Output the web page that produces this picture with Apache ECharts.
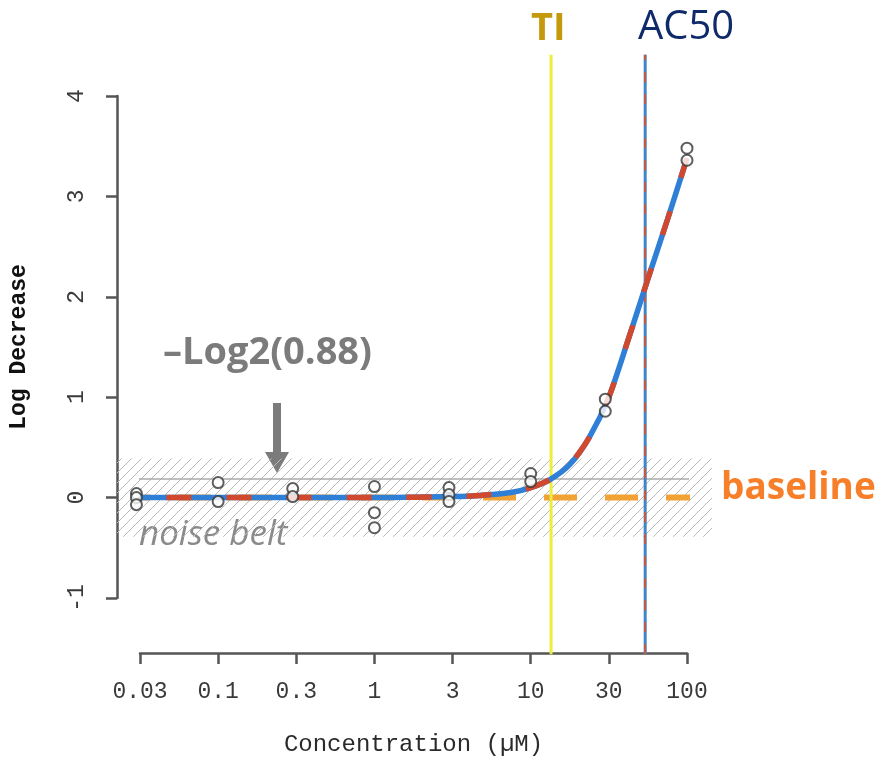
<!DOCTYPE html>
<html>
<head>
<meta charset="utf-8">
<script src="https://cdn.jsdelivr.net/npm/echarts@6/dist/echarts.min.js"></script>
<style>
  html, body { margin: 0; padding: 0; background: #fff; }
  #chart { width: 891px; height: 758px; }
</style>
</head>
<body>
<div id="chart"></div>
<script>
// measured replicate points (µM, log decrease)
const pointConc = [0.03, 0.03, 0.03, 0.1, 0.1, 0.3, 0.3, 1, 1, 1, 3, 3, 3, 10, 10, 30, 30, 100, 100];
const pointValues = [0.04, 0, -0.07, 0.15, -0.04, 0.09, 0.01, 0.11, -0.15, -0.3, 0.1, 0.03, -0.04, 0.24, 0.16, 0.98, 0.86, 3.48, 3.36];

// fitted curve
const curveConc = [0.03, 0.3, 1, 3.16, 4.2, 5.6, 7.5, 10, 13.3, 17.8, 23.7, 31.6, 42, 56, 75, 100];
const curveValues = [0, 0, 0, 0.01, 0.015, 0.03, 0.05, 0.1, 0.18, 0.33, 0.6, 1.0, 1.57, 2.17, 2.77, 3.38];

const xTickLabels = ["0.03", "0.1", "0.3", "1", "3", "10", "30", "100"];
const yTicks = [-1, 0, 1, 2, 3, 4];

const tiConc = 13.5;
const ac50Conc = 54;
const noiseBelt = 0.39;
const threshold = -Math.log2(0.88);

// plot region reaches past the tick range (R style axes)
const xLeft = -1.647, xRight = 2.16, baseEnd = 2.1;
const yBottom = -1.56, yTop = 4.41;

const lg = Math.log10;
const toXY = (xs, ys) => xs.map((c, i) => [lg(c), ys[i]]);

// diagonal hatch for the noise belt
const hatch = document.createElement("canvas");
hatch.width = 10; hatch.height = 10;
(function () {
  const g = hatch.getContext("2d");
  g.strokeStyle = "#b8b8b8";
  g.lineWidth = 1;
  g.beginPath();
  g.moveTo(-1, 11); g.lineTo(11, -1);
  g.moveTo(-1, 1); g.lineTo(1, -1);
  g.moveTo(9, 11); g.lineTo(11, 9);
  g.stroke();
})();

const chart = echarts.init(document.getElementById("chart"));

const blue = "#2f7fd6";
const red = "#d0492f";
const monoFont = "Liberation Mono";

chart.setOption({
  animation: false,
  grid: { left: 140, width: 547, top: 96, height: 502, outerBoundsMode: "none", containLabel: false },
  xAxis: {
    type: "value",
    min: -1.5, max: 2, interval: 0.5,
    offset: 55,
    splitLine: { show: false },
    axisLine: { onZero: false, lineStyle: { color: "#555", width: 2.5 } },
    axisTick: { length: 11, lineStyle: { color: "#555", width: 2.5 } },
    axisLabel: {
      margin: 27,
      color: "#3a3a3a",
      fontFamily: monoFont,
      fontSize: 23,
      formatter: v => xTickLabels[Math.round((v + 1.5) / 0.5)]
    },
    name: "Concentration (µM)",
    nameLocation: "middle",
    nameGap: 80,
    nameTextStyle: { color: "#2a2a2a", fontFamily: monoFont, fontSize: 24 }
  },
  yAxis: {
    type: "value",
    min: yTicks[0], max: yTicks[yTicks.length - 1], interval: 1,
    offset: 23,
    splitLine: { show: false },
    axisLine: { show: true, onZero: false, lineStyle: { color: "#555", width: 2.5 } },
    axisTick: { show: true, length: 11, lineStyle: { color: "#555", width: 2.5 } },
    axisLabel: {
      rotate: 90,
      margin: 29,
      color: "#3a3a3a",
      fontFamily: monoFont,
      fontSize: 23
    },
    name: "Log Decrease",
    nameLocation: "middle",
    nameRotate: 90,
    nameGap: 86,
    nameTextStyle: { color: "#111", fontFamily: monoFont, fontWeight: "bold", fontSize: 23 }
  },
  series: [
    {
      type: "custom",
      silent: true,
      clip: false,
      z: 1,
      data: [[xLeft, noiseBelt]],
      renderItem: (params, api) => {
        const p0 = api.coord([xLeft, noiseBelt]);
        const p1 = api.coord([xRight, -noiseBelt]);
        return {
          type: "rect",
          shape: { x: p0[0], y: p0[1], width: p1[0] - p0[0], height: p1[1] - p0[1] },
          style: { fill: { image: hatch, repeat: "repeat" } }
        };
      }
    },
    {
      type: "line", clip: false, symbol: "none", silent: true, z: 2,
      data: [[xLeft, threshold], [xRight, threshold]],
      lineStyle: { color: "#aaa", width: 1.5 }
    },
    {
      type: "line", clip: false, symbol: "none", silent: true, z: 3,
      data: [[xLeft, 0], [baseEnd, 0]],
      lineStyle: { color: "#f2a235", width: 6, type: [33, 28] }
    },
    {
      type: "line", clip: false, symbol: "none", silent: true, z: 4,
      data: [[lg(tiConc), yBottom], [lg(tiConc), yTop]],
      lineStyle: { color: "#eded3e", width: 3 }
    },
    {
      type: "line", clip: false, symbol: "none", silent: true, z: 4,
      data: [[lg(ac50Conc), yBottom], [lg(ac50Conc), yTop]],
      lineStyle: { color: "#3f86c8", width: 3 }
    },
    {
      type: "line", clip: false, symbol: "none", silent: true, z: 5,
      data: [[lg(ac50Conc), yBottom], [lg(ac50Conc), yTop]],
      lineStyle: { color: "#c9583f", width: 2, type: [10, 12] }
    },
    {
      type: "line", clip: false, symbol: "none", silent: true, z: 6,
      smooth: 0.25,
      data: toXY(curveConc, curveValues),
      lineStyle: { color: blue, width: 5.5 }
    },
    {
      type: "line", clip: false, symbol: "none", silent: true, z: 7,
      smooth: 0.25,
      data: toXY(curveConc, curveValues),
      lineStyle: { color: red, width: 5.5, type: [25, 35], dashOffset: -30 }
    },
    {
      type: "scatter", clip: false, z: 8,
      symbol: "emptyCircle", symbolSize: 11,
      data: toXY(pointConc, pointValues),
      itemStyle: { color: "#363636", borderColor: "#363636", borderWidth: 3 }
    }
  ],
  graphic: [
    { type: "text", left: 531, top: 10, style: { text: "TI", fill: "#c49a0c", font: "bold 38px 'Open Sans'" } },
    { type: "text", left: 638, top: 8, style: { text: "AC50", fill: "#0f2a68", font: "40px 'Open Sans'" } },
    { type: "text", left: 163, top: 334, style: { text: "–Log2(0.88)", fill: "#7b7b7b", font: "bold 38px 'Open Sans'" } },
    { type: "text", left: 721, top: 470, style: { text: "baseline", fill: "#f77f2a", font: "bold 37px 'Open Sans'" } },
    { type: "text", left: 139, top: 518, style: { text: "noise belt", fill: "#8a8a8a", font: "italic 35px 'Open Sans'" } },
    { type: "rect", shape: { x: 273, y: 403, width: 8, height: 50 }, style: { fill: "#7b7b7b" } },
    { type: "polygon", shape: { points: [[265, 452], [289, 452], [277, 473]] }, style: { fill: "#7b7b7b" } }
  ]
});
</script>
</body>
</html>
